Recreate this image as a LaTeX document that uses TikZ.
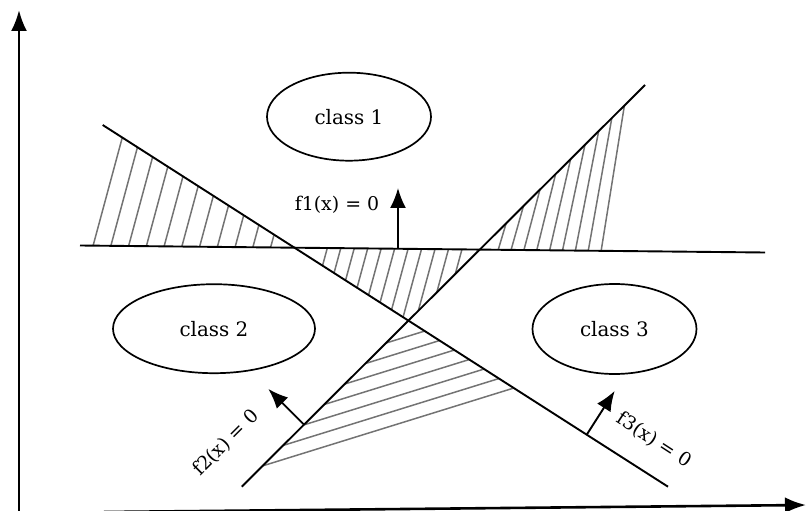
\documentclass[tikz,border=0pt]{standalone}
\usepackage{fontspec}
\setmainfont{DejaVu Serif}
\usetikzlibrary{calc,arrows.meta,shapes.geometric}

\begin{document}
\begin{tikzpicture}[x=1bp,y=-1bp,
		axis/.style={line width=2.6bp,-{Latex[length=21bp,width=16bp]}},
		bound/.style={line width=1.9bp},
		normal/.style={line width=1.9bp,-{Latex[length=20bp,width=16bp]}},
		hatch/.style={draw=black!55,line width=1.5bp},
		cls/.style={draw,ellipse,inner sep=0pt,line width=1.7bp,font=\fontsize{20}{22}\selectfont},
		lbl/.style={font=\fontsize{19}{21}\selectfont}]
				\useasboundingbox (0,0) rectangle (806,511);
				% axes
				\coordinate (O) at (19,513);
				\coordinate (Y) at (19,10);
				\coordinate (Xa) at (104,512);
				\coordinate (X) at (806,505);
				\draw[axis] (O)--(Y);
				\draw[axis] (Xa)--(X);
				% decision lines
				\coordinate (F1a) at (80,245.5);
				\coordinate (F1b) at (765,252.5);
				\coordinate (F2a) at (241.7,486.7);
				\coordinate (F2b) at (645,85);
				\coordinate (F3a) at (102.7,125);
				\coordinate (F3b) at (668,486.7);
				\coordinate (P13) at (intersection of F1a--F1b and F3a--F3b);
				\coordinate (P12) at (intersection of F1a--F1b and F2a--F2b);
				\coordinate (P23) at (intersection of F2a--F2b and F3a--F3b);
				% hatching
				\begin{scope}
					\clip (88,245.6) -- (88,115.6) -- (P13) -- cycle;
					\foreach \k in {0,...,10}
						\draw[hatch] ({93+17.8*\k-2.7},256) -- ({93+17.8*\k+40.5},96);
				\end{scope}
				\begin{scope}
					\clip (P13) -- (P12) -- (P23) -- cycle;
					\foreach \k in {0,...,10}
						\draw[hatch] ({327+13.5*\k+1.4},244) -- ({327+13.5*\k-21.9},330);
				\end{scope}
				\begin{scope}
					\clip (P12) -- (660,70) -- (720,70) -- (720,252) -- cycle;
					\foreach \k in {0,...,8}{
						\pgfmathsetmacro{\s}{0.3-0.0175*\k}
						\draw[hatch] ({498+12.9*\k-\s*5.5},256) -- ({498+12.9*\k+\s*170.5},80);
					}
				\end{scope}
				\begin{scope}
					\clip (P23) -- (F2a) -- (F3b) -- cycle;
					\foreach \k in {0,...,6}
						\draw[hatch] (250,{336.2+14.1*\k+49}) -- (560,{336.2+14.1*\k-47.1});
				\end{scope}
				\draw[bound] (F1a)--(F1b);
				\draw[bound] (F2a)--(F2b);
				\draw[bound] (F3a)--(F3b);
				% classes
				\node[cls,minimum width=164bp,minimum height=88bp] (C1) at (349,116.7) {class 1};
				\node[cls,minimum width=202bp,minimum height=89bp] (C2) at (214,328.7) {class 2};
				\node[cls,minimum width=164bp,minimum height=90bp] (C3) at (614.5,329) {class 3};
				% normals
				\coordinate (N1) at (398,248.8);
				\coordinate (T1) at (398,188);
				\coordinate (N2) at (304,424.6);
				\coordinate (T2) at (268.3,388.9);
				\coordinate (N3) at (586.7,434.7);
				\coordinate (T3) at (614.7,390.9);
				\draw[normal] (N1)--(T1);
				\draw[normal] (N2)--(T2);
				\draw[normal] (N3)--(T3);
				\node[lbl] (L1) at (337,205) {f1(x) = 0};
				\node[lbl,rotate=45] (L2) at (226,443) {f2(x) = 0};
				\node[lbl,rotate=-33] (L3) at (654,440) {f3(x) = 0};
			\end{tikzpicture}
\end{document}
